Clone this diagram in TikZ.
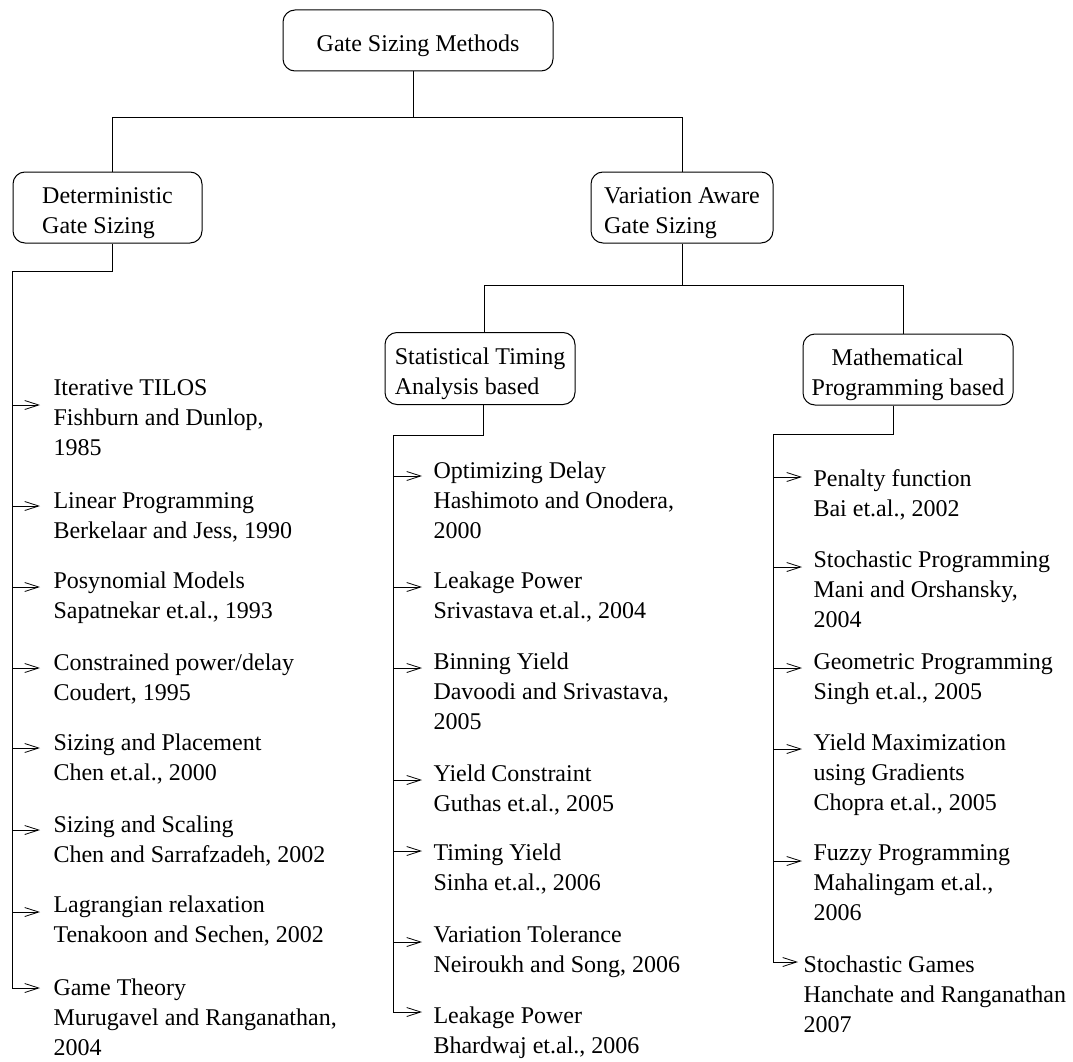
\documentclass[tikz,border=0pt]{standalone}
\usepackage{fontspec}
\setmainfont{Liberation Serif}
\usetikzlibrary{arrows.meta}
% stacked lines whose reference point is the baseline of the first line
\newcommand\itemlines[1]{\begin{tabular}[t]{@{}l@{}}#1\end{tabular}}
% box caption, set a little below the box centre
\newcommand\boxlines[1]{\raisebox{-5pt}[\height][\depth]{\begin{tabular}{@{}l@{}}#1\end{tabular}}}
\begin{document}
\begin{tikzpicture}[x=1pt,y=-1pt,line width=1pt,
  txt/.style={font=\fontsize{24}{30}\selectfont},
  box/.style={txt,draw,rounded corners=12pt,inner sep=0pt},
  item/.style={txt,anchor=base west,inner sep=0pt},
  arr/.style={-{Straight Barb[length=14pt,width=9pt,line width=0.8pt]}}]
\useasboundingbox (0,0) rectangle (1073,1062);

% category boxes
\node[box,minimum width=270pt,minimum height=61pt] (top) at (418,40.5) {\boxlines{Gate Sizing Methods}};
\node[box,minimum width=189pt,minimum height=71pt] (det) at (107.5,207.5) {\boxlines{Deterministic\\Gate Sizing}};
\node[box,minimum width=182pt,minimum height=71pt] (var) at (682,207.5) {\boxlines{Variation Aware\\Gate Sizing}};
\node[box,minimum width=190pt,minimum height=72pt] (stat) at (480,368.5) {\boxlines{Statistical Timing\\Analysis based}};
\node[box,minimum width=210pt,minimum height=71pt] (math) at (908,369.5) {\boxlines{\hspace*{20pt}Mathematical\\Programming based}};

% junction points
\coordinate (t0) at (413,118);
\coordinate (tl) at (112,118);
\coordinate (tr) at (682,118);
\coordinate (vj) at (682,285);
\coordinate (sj) at (484,285);
\coordinate (mj) at (903,285);
\coordinate (dd) at (112,271);
\coordinate (lt) at (12.5,271);
\coordinate (sd) at (483,435);
\coordinate (mt) at (393,435);
\coordinate (md) at (893,434);
\coordinate (rt) at (773,434);

% tree connectors
\draw (top.south -| t0) -- (t0);
\draw (det.north -| tl) |- (tr) -- (var.north -| tr);
\draw (var.south) -- (vj);
\draw (stat.north -| sj) |- (mj) -- (math.north -| mj);

% deterministic methods
\node[item] (L1) at (53,395) {\itemlines{Iterative TILOS\\Fishburn and Dunlop,\\1985}};
\node[item] (L2) at (53,508) {\itemlines{Linear Programming\\Berkelaar and Jess, 1990}};
\node[item] (L3) at (53,588) {\itemlines{Posynomial Models\\Sapatnekar et.al., 1993}};
\node[item] (L4) at (53,670) {\itemlines{Constrained power/delay\\Coudert, 1995}};
\node[item] (L5) at (53,750) {\itemlines{Sizing and Placement\\Chen et.al., 2000}};
\node[item] (L6) at (53,832) {\itemlines{Sizing and Scaling\\Chen and Sarrafzadeh, 2002}};
\node[item] (L7) at (53,912) {\itemlines{Lagrangian relaxation\\Tenakoon and Sechen, 2002}};
\node[item] (L8) at (53,995) {\itemlines{Game Theory\\Murugavel and Ranganathan,\\2004}};

% statistical timing analysis based methods
\node[item] (M1) at (433,478) {\itemlines{Optimizing Delay\\Hashimoto and Onodera,\\2000}};
\node[item] (M2) at (433,588) {\itemlines{Leakage Power\\Srivastava et.al., 2004}};
\node[item] (M3) at (433,669) {\itemlines{Binning Yield\\Davoodi and Srivastava,\\2005}};
\node[item] (M4) at (433,781) {\itemlines{Yield Constraint\\Guthas et.al., 2005}};
\node[item] (M5) at (433,860) {\itemlines{Timing Yield\\Sinha et.al., 2006}};
\node[item] (M6) at (433,942) {\itemlines{Variation Tolerance\\Neiroukh and Song, 2006}};
\node[item] (M7) at (433,1023) {\itemlines{Leakage Power\\Bhardwaj et.al., 2006}};

% mathematical programming based methods
\node[item] (R1) at (813,486) {\itemlines{Penalty function\\Bai et.al., 2002}};
\node[item] (R2) at (813,567) {\itemlines{Stochastic Programming\\Mani and Orshansky,\\2004}};
\node[item] (R3) at (813,669) {\itemlines{Geometric Programming\\Singh et.al., 2005}};
\node[item] (R4) at (813,750) {\itemlines{Yield Maximization\\using Gradients\\Chopra et.al., 2005}};
\node[item] (R5) at (813,860) {\itemlines{Fuzzy Programming\\Mahalingam et.al.,\\2006}};
\node[item] (R6) at (803,972) {\itemlines{Stochastic Games\\Hanchate and Ranganathan\\2007}};

% trunks ending in the last arrow of each list
\draw[arr] (det.south -| dd) -- (dd) -- (lt) -- ([yshift=7pt]L8.base west -| lt) -- ([xshift=-13pt,yshift=7pt]L8.base west);
\draw[arr] (stat.south -| sd) -- (sd) -- (mt) -- ([yshift=11pt]M7.base west -| mt) -- ([xshift=-11pt,yshift=11pt]M7.base west);
\draw[arr] (math.south -| md) -- (md) -- (rt) -- ([yshift=10pt]R6.base west -| rt) -- ([xshift=-5pt,yshift=10pt]R6.base west);

% branch arrows
\foreach \n/\dy in {L1/-10,L2/2,L3/1,L4/2,L5/2,L6/2,L7/0}
  \draw[arr] ([yshift=\dy pt]\n.base west -| lt) -- ([xshift=-13pt,yshift=\dy pt]\n.base west);
\foreach \n/\dy in {M1/2,M2/1,M3/1,M4/1,M5/9,M6/0}
  \draw[arr] ([yshift=\dy pt]\n.base west -| mt) -- ([xshift=-11pt,yshift=\dy pt]\n.base west);
\foreach \n/\dy in {R1/9,R2/0,R3/1,R4/1,R5/-1}
  \draw[arr] ([yshift=\dy pt]\n.base west -| rt) -- ([xshift=-11pt,yshift=\dy pt]\n.base west);
\end{tikzpicture}
\end{document}
